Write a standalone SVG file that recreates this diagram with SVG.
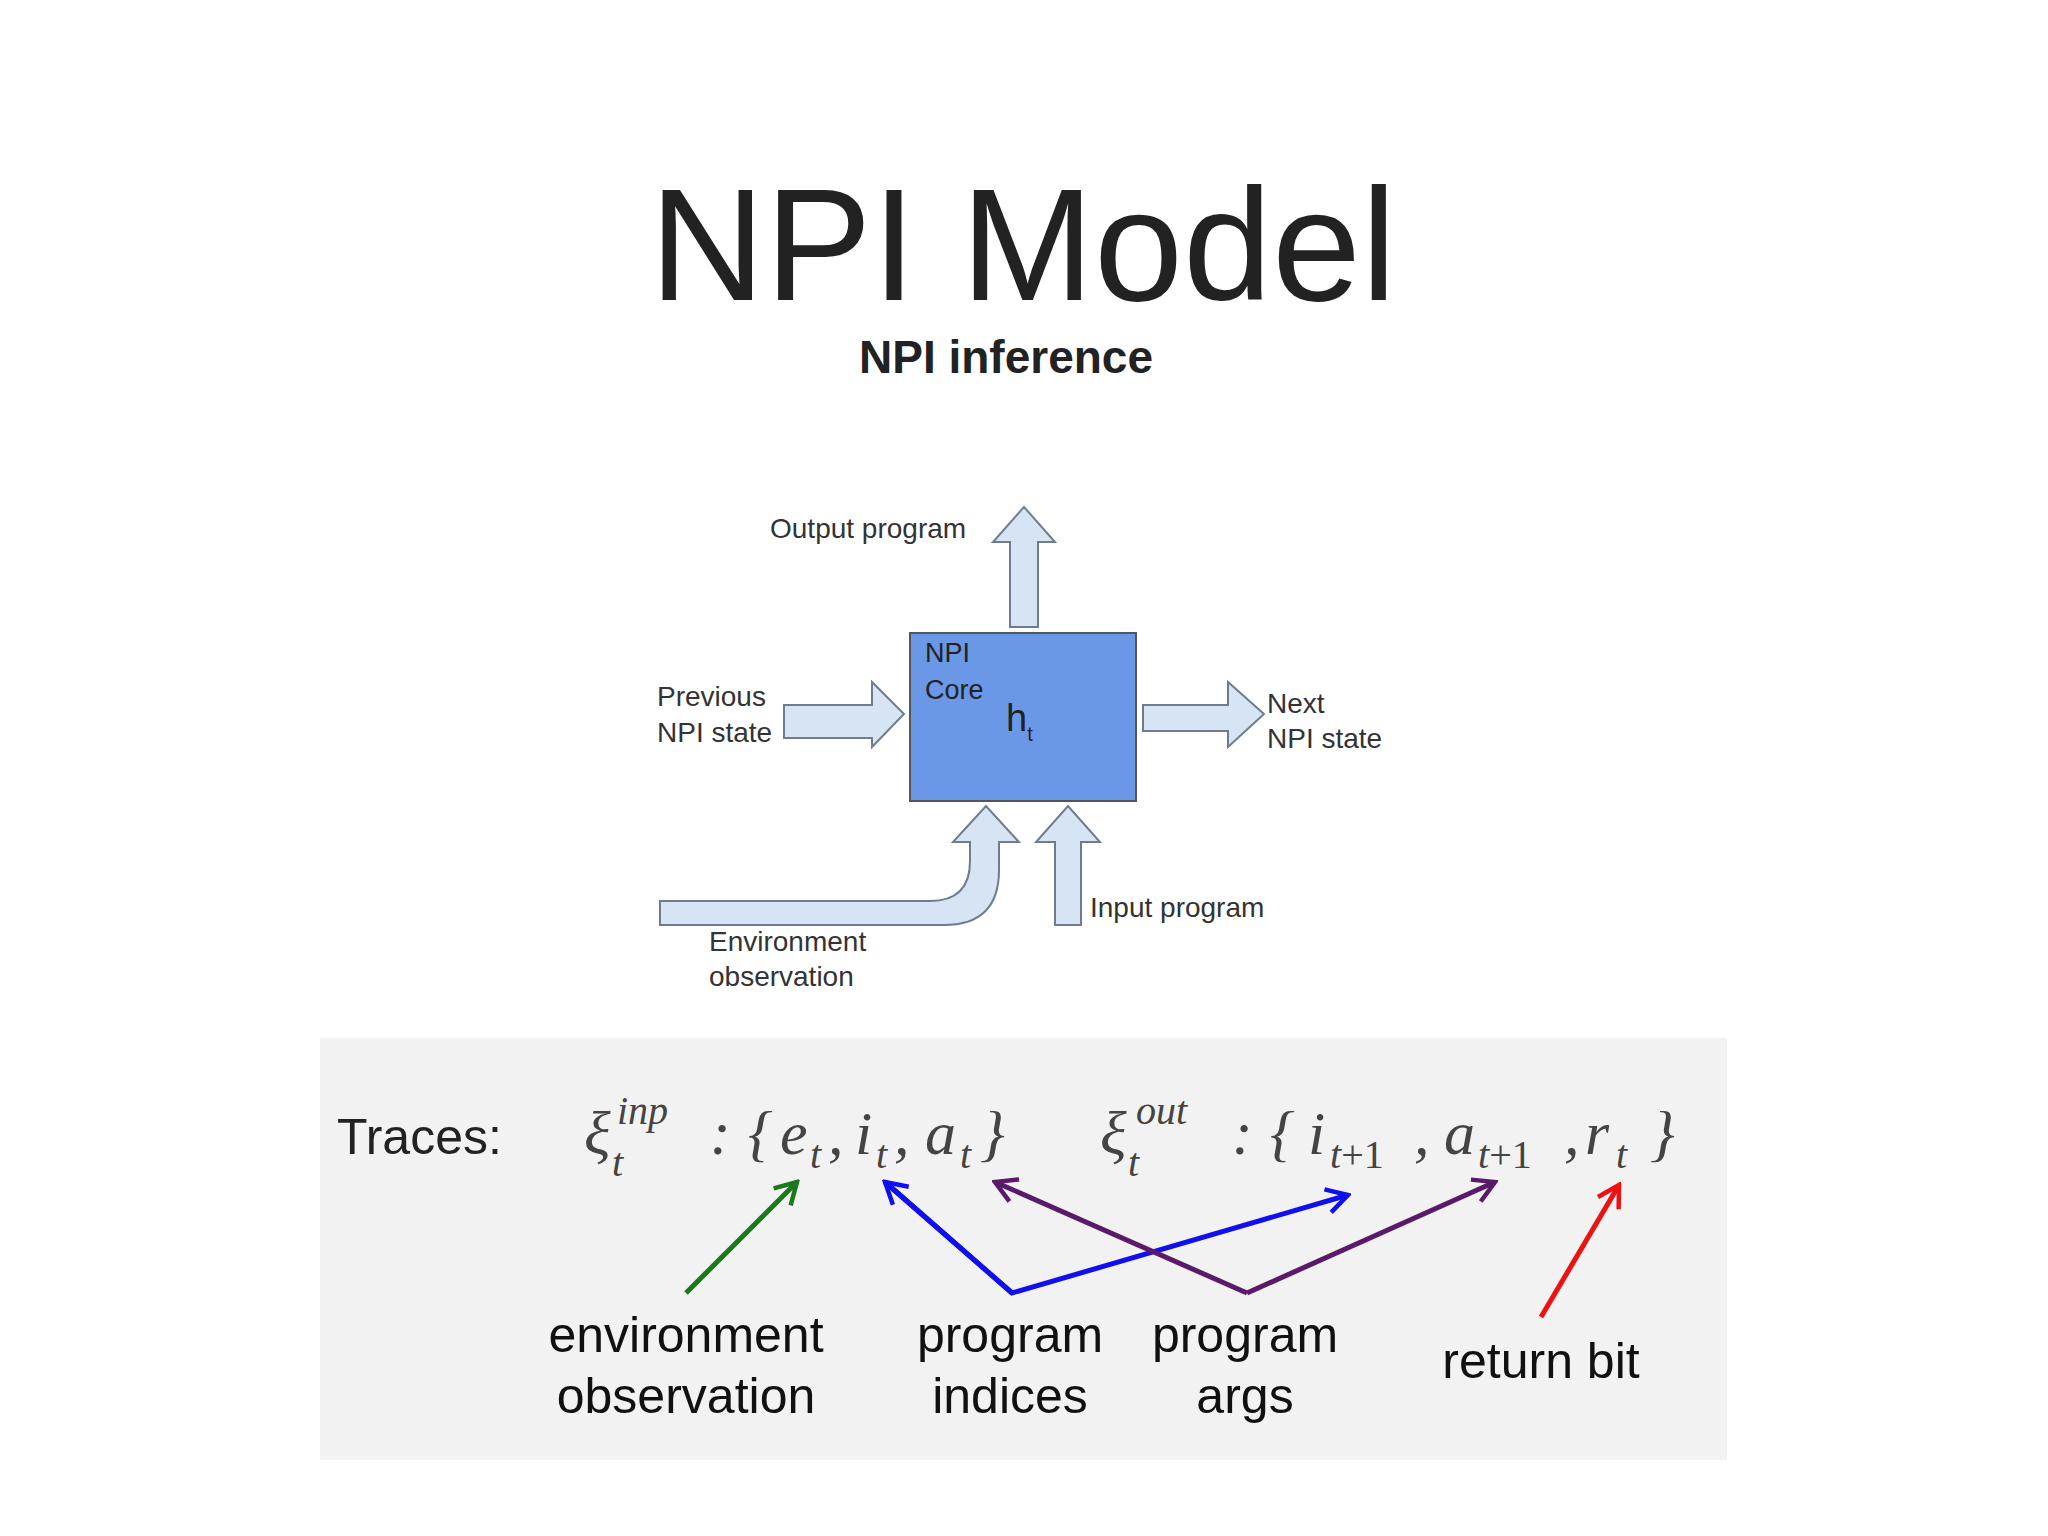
<svg xmlns="http://www.w3.org/2000/svg" width="2048" height="1536" viewBox="0 0 2048 1536">
<defs>
<style>
.s{font-family:"Liberation Sans",Arial,sans-serif;fill:#222}
.lab{font-size:28px;fill:#333}
.m{font-family:"Liberation Serif","Times New Roman",serif;font-style:italic;fill:#444}
.big{font-size:62px}.sub{font-size:40px}
.ar{fill:#d6e4f3;stroke:#6d7d8d;stroke-width:2}
.tl{font-size:50px;text-anchor:middle;fill:#111}
.ln{fill:none;stroke-width:5;stroke-linejoin:miter}
</style>
<marker id="mg" viewBox="0 0 20 20" refX="18" refY="10" markerWidth="6" markerHeight="6" orient="auto" markerUnits="strokeWidth"><polyline points="4,2 18,10 4,18" fill="none" stroke="#1a7a1a" stroke-width="3"/></marker>
<marker id="mb" viewBox="0 0 20 20" refX="18" refY="10" markerWidth="6" markerHeight="6" orient="auto" markerUnits="strokeWidth"><polyline points="4,2 18,10 4,18" fill="none" stroke="#1010ee" stroke-width="3"/></marker>
<marker id="mp" viewBox="0 0 20 20" refX="18" refY="10" markerWidth="6" markerHeight="6" orient="auto" markerUnits="strokeWidth"><polyline points="4,2 18,10 4,18" fill="none" stroke="#5a1a6a" stroke-width="3"/></marker>
<marker id="mr" viewBox="0 0 20 20" refX="18" refY="10" markerWidth="6" markerHeight="6" orient="auto" markerUnits="strokeWidth"><polyline points="4,2 18,10 4,18" fill="none" stroke="#ee1111" stroke-width="3"/></marker>
</defs>
<rect width="2048" height="1536" fill="#fff"/>
<text class="s" x="1023" y="300" font-size="160" text-anchor="middle" fill="#111">NPI Model</text>
<text class="s" x="1006" y="373" font-size="46" font-weight="bold" text-anchor="middle">NPI inference</text>

<g id="connectors">
<path class="ar" d="M1010,627 L1010,542 L993,542 L1024,507 L1055,542 L1038,542 L1038,627 Z"/>
<path class="ar" d="M784,705 L872,705 L872,682 L904,714 L872,747 L872,738 L784,738 Z"/>
<path class="ar" d="M1143,705 L1228,705 L1228,682 L1264,714 L1228,747 L1228,731 L1143,731 Z"/>
<path class="ar" d="M1055,925 L1055,842 L1036,842 L1068,806 L1100,842 L1081,842 L1081,925 Z"/>
<path class="ar" d="M660,901 L930,901 Q970,901 970,861 L970,842 L953,842 L986,806 L1019,842 L999,842 L999,870 Q999,925 944,925 L660,925 Z"/>
</g>

<g id="core">
<rect x="910" y="633" width="226" height="168" fill="#6a98e6" stroke="#555" stroke-width="2"/>
<text class="s" x="925" y="662" font-size="27" fill="#1a2a4a">NPI</text>
<text class="s" x="925" y="699" font-size="27" fill="#1a2a4a">Core</text>
<text class="s" x="1006" y="731" font-size="38" fill="#eef3ff">h<tspan font-size="20" dy="10">t</tspan></text>
</g>
<g id="labels">
<text class="s lab" x="770" y="538">Output program</text>
<text class="s lab" x="657" y="706">Previous</text>
<text class="s lab" x="657" y="742">NPI state</text>
<text class="s lab" x="1267" y="713">Next</text>
<text class="s lab" x="1267" y="748">NPI state</text>
<text class="s lab" x="1090" y="917">Input program</text>
<text class="s lab" x="709" y="951">Environment</text>
<text class="s lab" x="709" y="986">observation</text>
</g>

<g id="traces">
<rect x="320" y="1038" width="1407" height="422" fill="#f2f2f2"/>
<text class="s" x="337" y="1154" font-size="50" fill="#111">Traces:</text>
<text class="m big" x="584" y="1154">ξ</text>
<text class="m sub" x="612" y="1176">t</text>
<text class="m sub" x="617" y="1124">inp</text>
<text class="m big" x="710" y="1154" font-style="normal">:</text>
<text class="m big" x="748" y="1154" font-style="normal">{</text>
<text class="m big" x="780" y="1154">e</text>
<text class="m sub" x="810" y="1168">t</text>
<text class="m big" x="828" y="1154" font-style="normal">,</text>
<text class="m big" x="855" y="1154">i</text>
<text class="m sub" x="876" y="1168">t</text>
<text class="m big" x="894" y="1154" font-style="normal">,</text>
<text class="m big" x="925" y="1154">a</text>
<text class="m sub" x="960" y="1168">t</text>
<text class="m big" x="980" y="1154" font-style="normal">}</text>
<text class="m big" x="1100" y="1154">ξ</text>
<text class="m sub" x="1128" y="1176">t</text>
<text class="m sub" x="1136" y="1124">out</text>
<text class="m big" x="1232" y="1154" font-style="normal">:</text>
<text class="m big" x="1270" y="1154" font-style="normal">{</text>
<text class="m big" x="1308" y="1154">i</text>
<text class="m sub" x="1330" y="1168">t<tspan font-style="normal">+1</tspan></text>
<text class="m big" x="1414" y="1154" font-style="normal">,</text>
<text class="m big" x="1444" y="1154">a</text>
<text class="m sub" x="1478" y="1168">t<tspan font-style="normal">+1</tspan></text>
<text class="m big" x="1564" y="1154" font-style="normal">,</text>
<text class="m big" x="1585" y="1154">r</text>
<text class="m sub" x="1616" y="1168">t</text>
<text class="m big" x="1650" y="1154" font-style="normal">}</text>

<polyline class="ln" stroke="#1a7a1a" points="686,1293 797,1182" marker-end="url(#mg)"/>
<polyline class="ln" stroke="#1010ee" points="885,1182 1012,1293 1348,1195" marker-start="url(#mb)" marker-end="url(#mb)" style="marker-start:none"/>
<polyline class="ln" stroke="#1010ee" points="1012,1293 885,1182" marker-end="url(#mb)"/>
<polyline class="ln" stroke="#5a1a6a" points="1247,1293 1495,1182" marker-end="url(#mp)"/>
<polyline class="ln" stroke="#5a1a6a" points="1247,1293 995,1182" marker-end="url(#mp)"/>
<polyline class="ln" stroke="#ee1111" points="1541,1317 1619,1185" marker-end="url(#mr)"/>

<text class="s tl" x="686" y="1352">environment</text>
<text class="s tl" x="686" y="1413">observation</text>
<text class="s tl" x="1010" y="1352">program</text>
<text class="s tl" x="1010" y="1413">indices</text>
<text class="s tl" x="1245" y="1352">program</text>
<text class="s tl" x="1245" y="1413">args</text>
<text class="s tl" x="1541" y="1378">return bit</text>
</g>
</svg>
